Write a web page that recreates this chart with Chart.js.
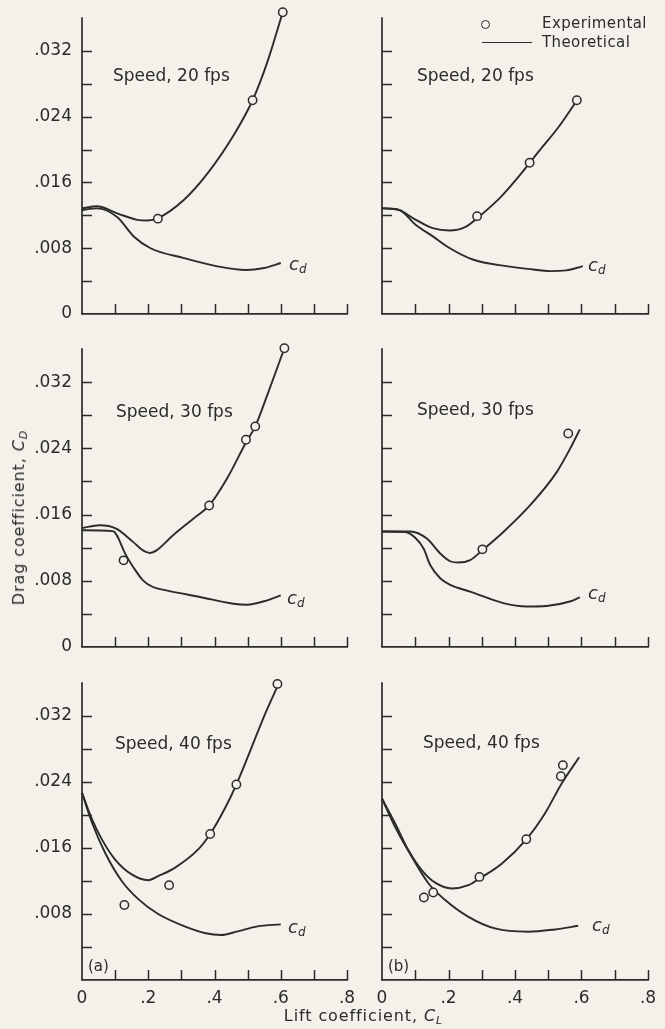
<!DOCTYPE html>
<html>
<head>
<meta charset="utf-8">
<script src="https://cdn.jsdelivr.net/npm/chart.js@4.4.1/dist/chart.umd.min.js"></script>
<style>
html,body{margin:0;padding:0;background:#f3f1e9;}
#wrap{position:relative;width:665px;height:1029px;overflow:hidden;background:#f3f1e9;font-family:'DejaVu Sans',sans-serif;color:#2b2b2b;}
canvas{position:absolute;}
.t{position:absolute;white-space:nowrap;line-height:1;}
.sp{font-size:17px;}
.cd{font-size:18px;font-style:italic;}
.cd sub{font-size:12px;vertical-align:-3px;}
.ttl{font-size:16px;letter-spacing:0.9px;}
.ttl sub{font-size:11px;vertical-align:-3px;letter-spacing:0;}
.lg{font-size:15px;letter-spacing:0.4px;}
.pl{font-size:15px;}
</style>
</head>
<body>
<div id="wrap">
<canvas id="a20" width="370" height="344" style="left:0;top:0"></canvas>
<canvas id="b20" width="325" height="344" style="left:340px;top:0"></canvas>
<canvas id="a30" width="370" height="347" style="left:0;top:330px"></canvas>
<canvas id="b30" width="325" height="347" style="left:340px;top:330px"></canvas>
<canvas id="a40" width="370" height="350" style="left:0;top:665px"></canvas>
<canvas id="b40" width="325" height="350" style="left:340px;top:665px"></canvas>

<div class="t sp" style="left:113px;top:67px">Speed, 20 fps</div>
<div class="t sp" style="left:417px;top:67px">Speed, 20 fps</div>
<div class="t sp" style="left:116px;top:403px">Speed, 30 fps</div>
<div class="t sp" style="left:417px;top:401px">Speed, 30 fps</div>
<div class="t sp" style="left:115px;top:735px">Speed, 40 fps</div>
<div class="t sp" style="left:423px;top:734px">Speed, 40 fps</div>

<div class="t cd" style="left:289px;top:255px">c<sub>d</sub></div>
<div class="t cd" style="left:588px;top:256px">c<sub>d</sub></div>
<div class="t cd" style="left:287px;top:589px">c<sub>d</sub></div>
<div class="t cd" style="left:588px;top:584px">c<sub>d</sub></div>
<div class="t cd" style="left:288px;top:918px">c<sub>d</sub></div>
<div class="t cd" style="left:592px;top:916px">c<sub>d</sub></div>

<div class="t pl" style="left:88px;top:959px">(a)</div>
<div class="t pl" style="left:388px;top:959px">(b)</div>

<div style="position:absolute;left:481px;top:20px;width:7px;height:7px;border:1.5px solid #2b2b2b;border-radius:50%;"></div>
<div class="t lg" style="left:542px;top:16px">Experimental</div>
<div style="position:absolute;left:482px;top:42px;width:50px;height:0;border-top:1.7px solid #2b2b2b;"></div>
<div class="t lg" style="left:542px;top:35px">Theoretical</div>

<div class="t ttl" style="left:20px;top:518px;transform:translate(-50%,-50%) rotate(-90deg);">Drag coefficient, <i>C<sub>D</sub></i></div>
<div class="t ttl" style="left:363px;top:1017px;transform:translate(-50%,-50%);">Lift coefficient, <i>C<sub>L</sub></i></div>
</div>

<script>
// ---- tick labels ----
const yLabelValues = [0, 0.008, 0.016, 0.024, 0.032];
const yLabelText = ['0', '.008', '.016', '.024', '.032'];
const xLabelValues = [0, 0.2, 0.4, 0.6, 0.8];
const xLabelText = ['0', '.2', '.4', '.6', '.8'];
const yAxisTop = 0.036;   // drawn axis ends here
const yRangeMax = 0.0375; // room for points just above the axis

// ---- (a) 20 fps ----
const a20_CL_CD = [0, 0.045, 0.106, 0.167, 0.197, 0.229, 0.308, 0.379, 0.46, 0.515, 0.56, 0.606];
const a20_CD = [0.01285, 0.0131, 0.01225, 0.01145, 0.01137, 0.01165, 0.0139, 0.0171, 0.0219, 0.026, 0.0307, 0.0367];
const a20_CL_cd = [0, 0.045, 0.106, 0.157, 0.207, 0.308, 0.409, 0.495, 0.55, 0.60];
const a20_cd = [0.01265, 0.01285, 0.0118, 0.0094, 0.0080, 0.0068, 0.0058, 0.00535, 0.0056, 0.0062];
const a20_CL_exp = [0.229, 0.515, 0.606];
const a20_CD_exp = [0.0116, 0.026, 0.0367];

// ---- (b) 20 fps ----
const b20_CL_CD = [0, 0.042, 0.102, 0.153, 0.203, 0.253, 0.286, 0.353, 0.414, 0.474, 0.534, 0.59];
const b20_CD = [0.01285, 0.01277, 0.01145, 0.01044, 0.01016, 0.01064, 0.01165, 0.01406, 0.01687, 0.0199, 0.0229, 0.0262];
const b20_CL_cd = [0, 0.052, 0.102, 0.153, 0.203, 0.273, 0.373, 0.454, 0.504, 0.554, 0.604];
const b20_cd = [0.01285, 0.01265, 0.01084, 0.00944, 0.00803, 0.00663, 0.00582, 0.00542, 0.00522, 0.0053, 0.00582];
const b20_CL_exp = [0.286, 0.444, 0.586];
const b20_CD_exp = [0.0119, 0.0184, 0.026];

// ---- (a) 30 fps ----
const a30_CL_CD = [0, 0.053, 0.103, 0.154, 0.184, 0.206, 0.225, 0.275, 0.336, 0.384, 0.437, 0.495, 0.523, 0.559, 0.611];
const a30_CD = [0.01437, 0.0147, 0.0143, 0.0127, 0.01167, 0.01135, 0.01167, 0.0135, 0.0155, 0.0171, 0.0203, 0.0247, 0.02665, 0.0304, 0.0361];
const a30_CL_cd = [0, 0.093, 0.133, 0.154, 0.184, 0.214, 0.255, 0.356, 0.457, 0.498, 0.559, 0.6];
const a30_cd = [0.0141, 0.0140, 0.01107, 0.0097, 0.00805, 0.00725, 0.00684, 0.00604, 0.00523, 0.00511, 0.00564, 0.00624];
const a30_CL_exp = [0.1255, 0.384, 0.495, 0.523, 0.611];
const a30_CD_exp = [0.01047, 0.0171, 0.02504, 0.02665, 0.0361];

// ---- (b) 30 fps ----
const b30_CL_CD = [0, 0.085, 0.135, 0.175, 0.205, 0.23, 0.265, 0.302, 0.365, 0.445, 0.525, 0.565, 0.595];
const b30_CD = [0.01396, 0.01396, 0.0131, 0.0113, 0.01036, 0.0102, 0.0105, 0.0117, 0.0139, 0.0171, 0.0211, 0.0239, 0.0263];
const b30_CL_cd = [0, 0.07, 0.1, 0.125, 0.145, 0.175, 0.205, 0.265, 0.365, 0.435, 0.495, 0.565, 0.595];
const b30_cd = [0.01396, 0.0139, 0.0132, 0.0119, 0.0099, 0.0083, 0.0075, 0.0067, 0.0053, 0.0049, 0.00496, 0.0055, 0.0060];
const b30_CL_exp = [0.302, 0.56];
const b30_CD_exp = [0.0118, 0.0258];

// ---- (a) 40 fps ----
const a40_CL_CD = [0, 0.03, 0.06, 0.1, 0.15, 0.2, 0.23, 0.28, 0.35, 0.387, 0.43, 0.466, 0.51, 0.55, 0.59];
const a40_CD = [0.0227, 0.0195, 0.01705, 0.0146, 0.0128, 0.0121, 0.0126, 0.0136, 0.0158, 0.0177, 0.0207, 0.0237, 0.028, 0.032, 0.0356];
const a40_CL_cd = [0, 0.03, 0.07, 0.12, 0.17, 0.23, 0.31, 0.37, 0.42, 0.47, 0.53, 0.6];
const a40_cd = [0.0227, 0.0191, 0.0154, 0.0120, 0.0098, 0.0080, 0.0065, 0.0057, 0.00545, 0.0059, 0.0065, 0.00675];
const a40_CL_exp = [0.128, 0.263, 0.387, 0.466, 0.59];
const a40_CD_exp = [0.00909, 0.0115, 0.0177, 0.0237, 0.0359];

// ---- (b) 40 fps ----
const b40_CL_CD = [0, 0.04, 0.08, 0.12, 0.16, 0.21, 0.26, 0.293, 0.36, 0.434, 0.49, 0.54, 0.593];
const b40_CD = [0.0220, 0.01895, 0.0157, 0.0133, 0.0118, 0.0111, 0.0115, 0.0123, 0.0141, 0.01706, 0.0202, 0.0238, 0.027];
const b40_CL_cd = [0, 0.04, 0.09, 0.14, 0.19, 0.26, 0.34, 0.44, 0.52, 0.59];
const b40_cd = [0.0220, 0.0185, 0.0149, 0.0117, 0.0097, 0.00766, 0.00625, 0.00585, 0.00613, 0.00657];
const b40_CL_exp = [0.126, 0.154, 0.293, 0.434, 0.538, 0.544];
const b40_CD_exp = [0.0100, 0.0106, 0.0125, 0.01706, 0.0247, 0.02605];

const INK = '#2b2b2b';
const BG = '#f3f1e9';

// y-axis line (0 .. 0.036) and inward tick marks, placed through the chart's scales
const axisAndTicks = {
  id: 'axisAndTicks',
  afterDraw(chart) {
    const {ctx, chartArea: a} = chart;
    const xs = chart.scales.x, ys = chart.scales.y;
    ctx.save();
    ctx.strokeStyle = INK;
    ctx.lineWidth = 1.7;
    ctx.beginPath();
    const top = ys.getPixelForValue(yAxisTop);
    ctx.moveTo(a.left, ys.getPixelForValue(0));
    ctx.lineTo(a.left, top - 0.8);
    ctx.stroke();
    ctx.lineWidth = 1.5;
    ctx.beginPath();
    ys.ticks.forEach(t => {
      if (t.value <= 1e-9 || t.value > yAxisTop + 1e-9) return;
      const p = Math.round(ys.getPixelForValue(t.value)) + 0.5;
      ctx.moveTo(a.left, p); ctx.lineTo(a.left + 10, p);
    });
    xs.ticks.forEach(t => {
      if (t.value <= 1e-9) return;
      const p = Math.round(xs.getPixelForValue(t.value)) + 0.5;
      ctx.moveTo(p, a.bottom); ctx.lineTo(p, a.bottom - 10);
    });
    ctx.stroke();
    ctx.restore();
  }
};

function pairs(xs, ys) { return xs.map((x, i) => ({x: x, y: ys[i]})); }
function lookup(values, texts, v) {
  const i = values.findIndex(u => Math.abs(u - v) < 1e-9);
  return i < 0 ? '' : texts[i];
}

function makeChart(id, cfg) {
  const ctx = document.getElementById(id);
  const curve = (data) => ({
    data: data, showLine: true, borderColor: INK, borderWidth: 1.9,
    pointRadius: 0, cubicInterpolationMode: 'monotone', fill: false, clip: false
  });
  return new Chart(ctx, {
    type: 'line',
    data: {
      datasets: [
        { data: pairs(cfg.expX, cfg.expY), showLine: false, pointRadius: 4.2,
          pointBorderWidth: 1.5, pointBorderColor: INK, pointBackgroundColor: BG,
          pointStyle: 'circle', clip: false },
        curve(pairs(cfg.upX, cfg.upY)),
        curve(pairs(cfg.loX, cfg.loY))
      ]
    },
    options: {
      responsive: false, animation: false, devicePixelRatio: 1, events: [],
      layout: { padding: { top: cfg.padTop, right: cfg.padRight, left: 0, bottom: 0 } },
      plugins: { legend: { display: false }, tooltip: { enabled: false } },
      scales: {
        x: {
          type: 'linear', min: 0, max: 0.8,
          afterFit: s => { s.height = cfg.xH; s.paddingLeft = 0; s.paddingRight = 0; },
          grid: { display: true, drawOnChartArea: false, drawTicks: false },
          border: { display: true, color: INK, width: 1.7 },
          ticks: {
            stepSize: 0.1, autoSkip: false, maxRotation: 0, padding: 8,
            color: INK, font: { family: 'DejaVu Sans', size: 17 },
            callback: v => cfg.xLabels ? lookup(xLabelValues, xLabelText, v) : ''
          }
        },
        y: {
          type: 'linear', min: 0, max: yRangeMax,
          afterFit: s => { s.width = cfg.yW; s.paddingTop = 0; s.paddingBottom = 0; },
          grid: { display: true, drawOnChartArea: false, drawTicks: false },
          border: { display: false },
          ticks: {
            stepSize: 0.004, autoSkip: false, padding: 10,
            color: INK, font: { family: 'DejaVu Sans', size: 17 },
            callback: v => {
              if (!cfg.yLabels) return '';
              if (cfg.hideZero && Math.abs(v) < 1e-9) return '';
              return lookup(yLabelValues, yLabelText, v);
            }
          }
        }
      }
    },
    plugins: [axisAndTicks]
  });
}

const left = { yW: 82, padRight: 23, yLabels: true };
const right = { yW: 42, padRight: 17, yLabels: false };

makeChart('a20', Object.assign({}, left, { padTop: 3.6, xH: 30, xLabels: false,
  upX: a20_CL_CD, upY: a20_CD, loX: a20_CL_cd, loY: a20_cd, expX: a20_CL_exp, expY: a20_CD_exp }));
makeChart('b20', Object.assign({}, right, { padTop: 3.6, xH: 30, xLabels: false,
  upX: b20_CL_CD, upY: b20_CD, loX: b20_CL_cd, loY: b20_cd, expX: b20_CL_exp, expY: b20_CD_exp }));
makeChart('a30', Object.assign({}, left, { padTop: 6.6, xH: 30, xLabels: false,
  upX: a30_CL_CD, upY: a30_CD, loX: a30_CL_cd, loY: a30_cd, expX: a30_CL_exp, expY: a30_CD_exp }));
makeChart('b30', Object.assign({}, right, { padTop: 6.6, xH: 30, xLabels: false,
  upX: b30_CL_CD, upY: b30_CD, loX: b30_CL_cd, loY: b30_cd, expX: b30_CL_exp, expY: b30_CD_exp }));
makeChart('a40', Object.assign({}, left, { padTop: 4.6, xH: 35, xLabels: true, hideZero: true,
  upX: a40_CL_CD, upY: a40_CD, loX: a40_CL_cd, loY: a40_cd, expX: a40_CL_exp, expY: a40_CD_exp }));
makeChart('b40', Object.assign({}, right, { padTop: 4.6, xH: 35, xLabels: true,
  upX: b40_CL_CD, upY: b40_CD, loX: b40_CL_cd, loY: b40_cd, expX: b40_CL_exp, expY: b40_CD_exp }));
</script>
</body>
</html>
